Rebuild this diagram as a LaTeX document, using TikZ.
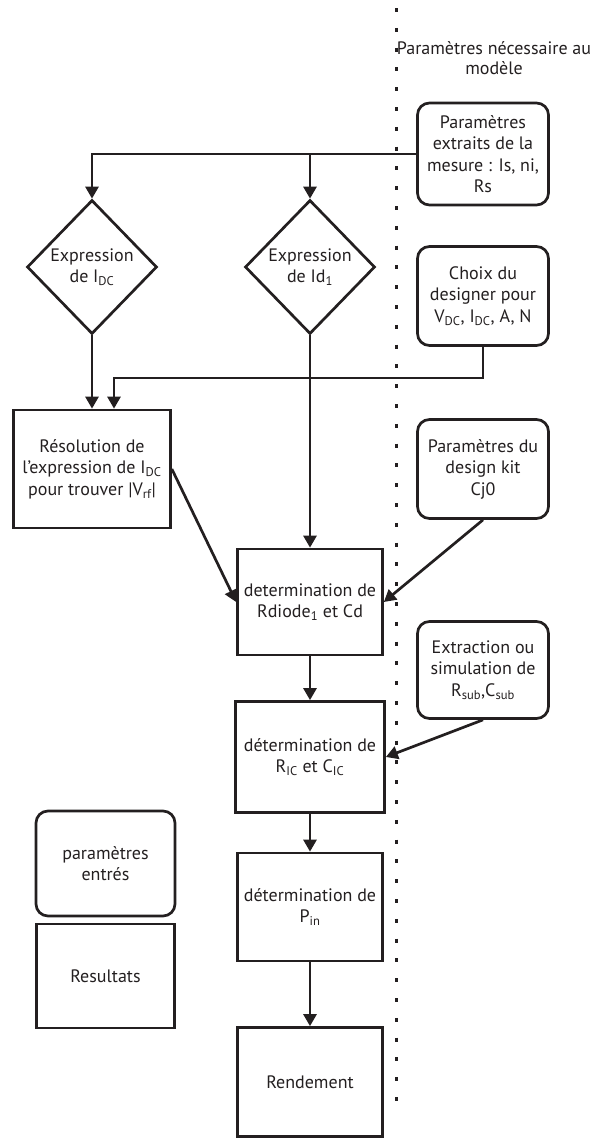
\documentclass[tikz,border=0pt]{standalone}
\usepackage{fontspec}
\setmainfont{PT Sans}
\usepackage{tikz}
\usetikzlibrary{shapes.geometric,arrows.meta,positioning}
\definecolor{ink}{HTML}{231F20}

\begin{document}
\begin{tikzpicture}[x=1pt,y=-1pt,->,>={Triangle[width=13pt,length=12pt]},line width=2.7pt,ink,
    node distance=150pt,on grid,font=\fontsize{18}{21.5}\selectfont,
    parambox/.style={draw,rounded corners=12pt,align=center,minimum width=131pt,minimum height=99pt,inner sep=2pt},
    stepbox/.style={draw,rectangle,align=center,minimum width=145pt,minimum height=107pt,inner sep=2pt},
    testbox/.style={draw,diamond,align=center,minimum width=130pt,minimum height=134pt,inner sep=0pt}]
    \useasboundingbox[-] (0,0) rectangle (592,1138);
    % limite modele / parametres
    \draw[-,line width=3pt,dash pattern=on 4pt off 15.8pt] (396,8) -- (396,1104);
    %% node
    \node (0) at (494,58) [align=center,font=\fontsize{18}{20}\selectfont]
      {Paramètres nécessaire au\\modèle};
    \node (1) at (483,154) [parambox,minimum height=102pt]
      {Paramètres\\extraits de la\\mesure : Is, ni,\\Rs};
    \node (2) [node distance=142pt,below of=1,parambox]
      {Choix du\\designer pour\\V\textsubscript{DC}, I\textsubscript{DC}, A, N};
    \node (3) [node distance=173pt,below of=2,parambox]
      {Paramètres du\\design kit\\Cj0};
    \node (4) [node distance=201pt,below of=3,parambox,minimum height=97pt]
      {Extraction ou\\simulation de\\R\textsubscript{sub},C\textsubscript{sub}};
    \node (5) at (92,267) [testbox]
      {Expression\\de I\textsubscript{DC}};
    \node (6) [node distance=218pt,right of=5,testbox]
      {Expression\\de Id\textsubscript{1}};
    \node (7) [node distance=202pt,below of=5,stepbox,minimum width=157pt,minimum height=118pt]
      {Résolution de\\l'expression de I\textsubscript{DC}\\pour trouver |V\textsubscript{rf}|};
    \node (8) [node distance=335pt,below of=6,stepbox,minimum height=106pt]
      {determination de\\Rdiode\textsubscript{1} et Cd};
    \node (9) [node distance=155pt,below of=8,stepbox,minimum width=149pt,minimum height=111pt]
      {détermination de\\R\textsubscript{IC} et C\textsubscript{IC}};
    \node (10) [node distance=150pt,below of=9,stepbox,minimum height=108pt]
      {détermination de\\P\textsubscript{in}};
    \node (11) [node distance=175pt,below of=10,stepbox,minimum height=109pt]
      {Rendement};
    % legende
    \node (12) at (105.5,863.5) [parambox,minimum width=139pt,minimum height=105pt]
      {paramètres\\entrés};
    \node (13) [node distance=112.5pt,below of=12,stepbox,minimum width=138pt,minimum height=104pt]
      {Resultats};
    \coordinate (c) at (114,378);
    %% path
    \draw (1.west) -| (5.north);
    \draw (1.west) -| (6.north);
    \draw (2.south) |- (c) -- (c |- 7.north);
    \path (5) edge (7)
      (6) edge (8)
      (7.east) edge (8.west)
      (3.south) edge (8.east)
      (8) edge (9)
      (4.south) edge (9.east)
      (9) edge (10)
      (10) edge (11);
\end{tikzpicture}
\end{document}
